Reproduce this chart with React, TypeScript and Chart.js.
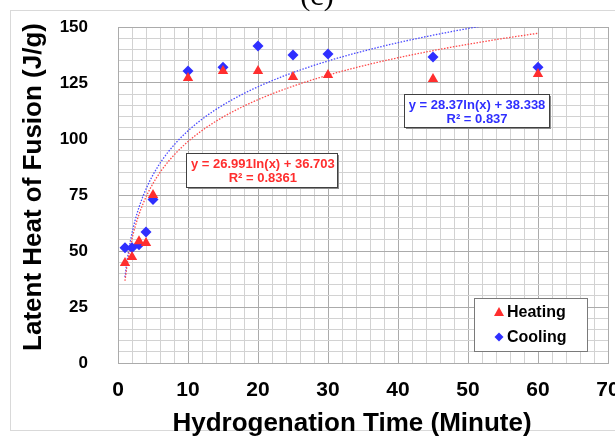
import React, { useEffect, useRef } from "react";
import { Chart, registerables } from "chart.js";

Chart.register(...registerables);

// Hydrogenation time (minutes) for each sample
const timeMinutes = [1, 2, 3, 4, 5, 10, 15, 20, 25, 30, 45, 60];
// Latent heat of fusion (J/g) measured on heating and cooling
const heatingValues = [44.6, 47.3, 54.3, 53.6, 75, 127.2, 130.4, 130.4, 127.7, 128.6, 126.8, 129];
const coolingValues = [51.4, 51.5, 52.8, 58.5, 73, 130.4, 132, 141.5, 137.5, 138, 136.6, 132];

// Logarithmic trend lines: y = slope * ln(x) + intercept
const heatingFit = { slope: 26.991, intercept: 36.703, r2: "0.8361", label: "y = 26.991ln(x) + 36.703" };
const coolingFit = { slope: 28.37, intercept: 38.338, r2: "0.837", label: "y = 28.37ln(x) + 38.338" };

const xTickLabels = [0, 10, 20, 30, 40, 50, 60, 70];
const yTickLabels = [0, 25, 50, 75, 100, 125, 150];

const RED = "#ff2e2e";
const BLUE = "#2f2fff";

function trendPoints(fit: { slope: number; intercept: number }, from: number, to: number) {
  const pts: { x: number; y: number }[] = [];
  for (let x = from; x <= to + 1e-9; x += 0.25) {
    pts.push({ x, y: fit.slope * Math.log(x) + fit.intercept });
  }
  return pts;
}

const chromePlugin = {
  id: "chrome",
  beforeDraw(chart: any) {
    const ctx = chart.ctx as CanvasRenderingContext2D;
    ctx.save();
    ctx.fillStyle = "#ffffff";
    ctx.fillRect(0, 0, chart.width, chart.height);
    ctx.strokeStyle = "#d9d9d9";
    ctx.lineWidth = 1;
    ctx.strokeRect(10.5, 10.5, chart.width + 20, 420);
    // panel label, cut off at the top edge
    ctx.fillStyle = "#000000";
    ctx.font = '30px "Liberation Serif", "Times New Roman", serif';
    ctx.textAlign = "center";
    ctx.textBaseline = "alphabetic";
    ctx.fillText("(c)", 317, 5);
    ctx.restore();
  },
  afterDraw(chart: any) {
    const ctx = chart.ctx as CanvasRenderingContext2D;
    const area = chart.chartArea;
    ctx.save();
    ctx.fillStyle = "#000000";
    ctx.font = 'bold 26px "Liberation Sans", Arial, sans-serif';
    ctx.textAlign = "center";
    ctx.textBaseline = "alphabetic";
    ctx.fillText("Hydrogenation Time (Minute)", 352, 431);
    ctx.translate(41, 187);
    ctx.rotate(-Math.PI / 2);
    ctx.fillText("Latent Heat of Fusion (J/g)", 0, 0);
    ctx.restore();

    // legend box
    ctx.save();
    const lx = area.right - 134;
    const ly = area.bottom - 65;
    ctx.fillStyle = "#ffffff";
    ctx.fillRect(lx, ly, 113, 53);
    ctx.strokeStyle = "#7a7a7a";
    ctx.lineWidth = 1;
    ctx.strokeRect(lx + 0.5, ly + 0.5, 113, 53);
    const mx = lx + 25;
    ctx.fillStyle = RED;
    ctx.beginPath();
    ctx.moveTo(mx, ly + 9);
    ctx.lineTo(mx + 5, ly + 18);
    ctx.lineTo(mx - 5, ly + 18);
    ctx.closePath();
    ctx.fill();
    ctx.fillStyle = BLUE;
    ctx.beginPath();
    ctx.moveTo(mx, ly + 34.5);
    ctx.lineTo(mx + 4.5, ly + 39);
    ctx.lineTo(mx, ly + 43.5);
    ctx.lineTo(mx - 4.5, ly + 39);
    ctx.closePath();
    ctx.fill();
    ctx.fillStyle = "#000000";
    ctx.font = 'bold 16px "Liberation Sans", Arial, sans-serif';
    ctx.textAlign = "left";
    ctx.textBaseline = "middle";
    ctx.fillText("Heating", lx + 33, ly + 14.5);
    ctx.fillText("Cooling", lx + 33, ly + 39.5);
    ctx.restore();
  },
  afterDatasetsDraw(chart: any) {
    const ctx = chart.ctx as CanvasRenderingContext2D;
    const xs = chart.scales.x;
    const ys = chart.scales.y;
    const drawBox = (cx: number, cy: number, w: number, h: number, color: string, fit: any) => {
      const left = Math.round(cx - w / 2);
      const top = Math.round(cy - h / 2);
      ctx.save();
      ctx.fillStyle = "#8c8c8c";
      ctx.fillRect(left + 2, top + 2, w, h);
      ctx.fillStyle = "#ffffff";
      ctx.fillRect(left, top, w, h);
      ctx.strokeStyle = "#404040";
      ctx.lineWidth = 1;
      ctx.strokeRect(left + 0.5, top + 0.5, w, h);
      ctx.fillStyle = color;
      ctx.font = 'bold 13px "Liberation Sans", Arial, sans-serif';
      ctx.textAlign = "center";
      ctx.textBaseline = "middle";
      ctx.fillText(fit.label, cx + 1, top + 11);
      ctx.fillText("R\u00b2 = " + fit.r2, cx + 1, top + 25);
      ctx.restore();
    };
    drawBox(xs.getPixelForValue(20.55), ys.getPixelForValue(86.3), 151, 34, RED, heatingFit);
    drawBox(xs.getPixelForValue(51.15), ys.getPixelForValue(112.8), 145, 33, BLUE, coolingFit);
  },
};

export default function App() {
  const canvasRef = useRef<HTMLCanvasElement | null>(null);

  useEffect(() => {
    document.body.style.margin = "0";
    const canvas = canvasRef.current;
    if (!canvas) return;

    const heatingPts = timeMinutes.map((x, i) => ({ x, y: heatingValues[i] }));
    const coolingPts = timeMinutes.map((x, i) => ({ x, y: coolingValues[i] }));
    const lastTime = timeMinutes[timeMinutes.length - 1];

    const chart = new Chart(canvas, {
      type: "scatter",
      data: {
        datasets: [
          {
            label: "Heating",
            data: heatingPts,
            pointStyle: "triangle",
            pointRadius: 6,
            backgroundColor: RED,
            borderColor: RED,
            borderWidth: 0,
          },
          {
            label: "Cooling",
            data: coolingPts,
            pointStyle: "rectRot",
            pointRadius: 5.5,
            backgroundColor: BLUE,
            borderColor: BLUE,
            borderWidth: 0,
          },
          {
            type: "line",
            label: "Heating trend",
            data: trendPoints(heatingFit, timeMinutes[0], lastTime),
            borderColor: "#ff4a4a",
            borderWidth: 1.3,
            borderDash: [1.5, 1.5],
            pointRadius: 0,
            fill: false,
            tension: 0,
          } as any,
          {
            type: "line",
            label: "Cooling trend",
            data: trendPoints(coolingFit, timeMinutes[0], lastTime),
            borderColor: "#4a4aff",
            borderWidth: 1.3,
            borderDash: [1.5, 1.5],
            pointRadius: 0,
            fill: false,
            tension: 0,
          } as any,
        ],
      },
      options: {
        animation: false,
        responsive: false,
        devicePixelRatio: 1,
        layout: { padding: { left: 0, top: 27, right: 7, bottom: 0 } },
        plugins: {
          legend: { display: false },
          tooltip: { enabled: false },
          title: { display: false },
        },
        scales: {
          x: {
            type: "linear",
            min: xTickLabels[0],
            max: xTickLabels[xTickLabels.length - 1],
            ticks: {
              stepSize: 2,
              autoSkip: false,
              maxRotation: 0,
              padding: 15,
              color: "#000000",
              font: { family: '"Liberation Sans", Arial, sans-serif', size: 21, weight: "bold" },
              callback: (v: any) => (xTickLabels.includes(Number(v)) ? String(v) : ""),
            },
            grid: {
              drawTicks: false,
              color: (c: any) => (c.tick && c.tick.value % 10 === 0 ? "#ababab" : "#d2d2d2"),
              lineWidth: 1,
            },
            border: { display: true, color: "#ababab" },
            afterFit: (scale: any) => {
              scale.height = 79;
              scale.paddingLeft = 0;
              scale.paddingRight = 0;
            },
          },
          y: {
            type: "linear",
            min: yTickLabels[0],
            max: yTickLabels[yTickLabels.length - 1],
            ticks: {
              stepSize: 5,
              autoSkip: false,
              padding: 30,
              color: "#000000",
              font: { family: '"Liberation Sans", Arial, sans-serif', size: 17, weight: "bold" },
              callback: (v: any) => (yTickLabels.includes(Number(v)) ? String(v) : ""),
            },
            grid: {
              drawTicks: false,
              color: (c: any) => (c.tick && c.tick.value % 25 === 0 ? "#ababab" : "#d2d2d2"),
              lineWidth: 1,
            },
            border: { display: true, color: "#ababab" },
            afterFit: (scale: any) => {
              scale.width = 118;
              scale.paddingTop = 0;
              scale.paddingBottom = 0;
            },
          },
        },
      } as any,
      plugins: [chromePlugin],
    });

    return () => chart.destroy();
  }, []);

  return <canvas ref={canvasRef} width={615} height={442} style={{ display: "block" }} />;
}
